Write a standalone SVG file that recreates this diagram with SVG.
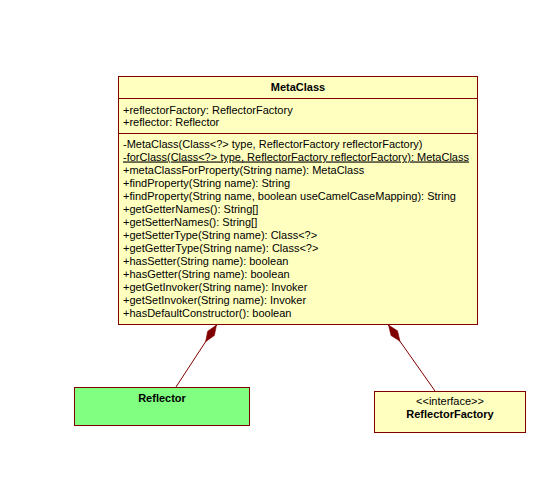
<svg xmlns="http://www.w3.org/2000/svg" width="551" height="485" viewBox="0 0 551 485">
<style>
.box{stroke:#800000;stroke-width:1;}
.cls{fill:#FFFFC0;}
.green{fill:#80FF80;}
.t{font-family:"Liberation Sans",Arial,sans-serif;font-size:11px;fill:#000;}
.b{font-weight:bold;}
.conn{stroke:#800000;stroke-width:1;fill:none;}
</style>
<defs>
<marker id="comp" markerUnits="userSpaceOnUse" markerWidth="22" markerHeight="10" refX="0" refY="4" orient="auto" overflow="visible">
<path d="M0,4 L10,0 L20,4 L10,8 Z" fill="#800000" stroke="#800000" stroke-width="0.5"/>
</marker>
</defs>
<rect width="551" height="485" fill="#fff"/>
<g id="connectors">
<line class="conn" x1="216.5" y1="325" x2="176" y2="387" marker-start="url(#comp)"/>
<line class="conn" x1="388.5" y1="325" x2="435" y2="391" marker-start="url(#comp)"/>
</g>
<g id="MetaClass">
<rect class="box cls" x="118.5" y="76.5" width="359" height="248"/>
<line class="box" x1="118.5" y1="98.5" x2="477.5" y2="98.5"/>
<line class="box" x1="118.5" y1="133.5" x2="477.5" y2="133.5"/>
<text class="t b" x="298" y="91" text-anchor="middle">MetaClass</text>
<text class="t" x="123" y="113.5">+reflectorFactory: ReflectorFactory</text>
<text class="t" x="123" y="126">+reflector: Reflector</text>
<text class="t" x="123" y="147.5">-MetaClass(Class&lt;?&gt; type, ReflectorFactory reflectorFactory)</text>
<text class="t" x="123" y="160.5" text-decoration="underline">-forClass(Class&lt;?&gt; type, ReflectorFactory reflectorFactory): MetaClass</text>
<text class="t" x="123" y="173.5">+metaClassForProperty(String name): MetaClass</text>
<text class="t" x="123" y="186.5">+findProperty(String name): String</text>
<text class="t" x="123" y="199.5">+findProperty(String name, boolean useCamelCaseMapping): String</text>
<text class="t" x="123" y="212.5">+getGetterNames(): String[]</text>
<text class="t" x="123" y="225.5">+getSetterNames(): String[]</text>
<text class="t" x="123" y="238.5">+getSetterType(String name): Class&lt;?&gt;</text>
<text class="t" x="123" y="251.5">+getGetterType(String name): Class&lt;?&gt;</text>
<text class="t" x="123" y="264.5">+hasSetter(String name): boolean</text>
<text class="t" x="123" y="277.5">+hasGetter(String name): boolean</text>
<text class="t" x="123" y="290.5">+getGetInvoker(String name): Invoker</text>
<text class="t" x="123" y="303.5">+getSetInvoker(String name): Invoker</text>
<text class="t" x="123" y="316.5">+hasDefaultConstructor(): boolean</text>
</g>
<g id="Reflector">
<rect class="box green" x="74.5" y="387.5" width="175" height="38"/>
<text class="t b" x="162" y="402" text-anchor="middle">Reflector</text>
</g>
<g id="ReflectorFactory">
<rect class="box cls" x="374.5" y="391.5" width="151" height="41"/>
<text class="t" x="450" y="405" text-anchor="middle">&lt;&lt;interface&gt;&gt;</text>
<text class="t b" x="450" y="418" text-anchor="middle">ReflectorFactory</text>
</g>
</svg>
